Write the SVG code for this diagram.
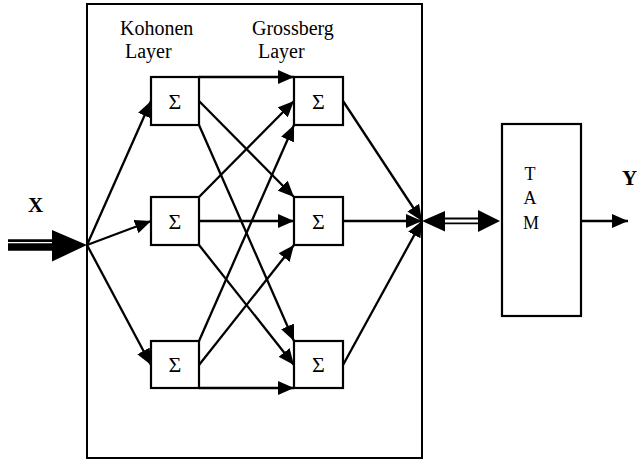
<svg xmlns="http://www.w3.org/2000/svg" width="637" height="461" viewBox="0 0 637 461">
  <style>
    .frame { fill: #fff; stroke: #000; stroke-width: 2; }
    .cell { fill: #fff; stroke: #000; stroke-width: 2.2; }
    .wire { fill: none; stroke: #000; stroke-width: 2.3; }
    .lbl { font-family: "Liberation Serif", "Times New Roman", serif; font-size: 20px; fill: #000; }
    .sig { font-family: "Liberation Serif", "Times New Roman", serif; font-size: 22px; fill: #000; text-anchor: middle; }
    .tam { font-family: "Liberation Serif", "Times New Roman", serif; font-size: 18px; fill: #000; text-anchor: middle; }
    .io { font-family: "Liberation Serif", "Times New Roman", serif; font-size: 21px; font-weight: bold; fill: #000; }
  </style>
  <defs>
    <marker id="head" markerUnits="userSpaceOnUse" markerWidth="16" markerHeight="14" refX="16" refY="7" orient="auto">
      <path d="M0,0 L16,7 L0,14 z" fill="#000"/>
    </marker>
  </defs>

  <rect width="637" height="461" fill="#fff"/>

  <!-- network frame with layer captions -->
  <g id="network">
    <rect class="frame" x="87" y="4" width="335" height="454"/>
    <text class="lbl" x="120" y="35">Kohonen</text>
    <text class="lbl" x="125" y="58">Layer</text>
    <text class="lbl" x="252" y="35">Grossberg</text>
    <text class="lbl" x="258" y="58">Layer</text>
  </g>

  <!-- Kohonen units -->
  <g id="k1"><rect class="cell" x="151" y="77" width="48" height="48"/><text class="sig" x="175" y="109">Σ</text></g>
  <g id="k2"><rect class="cell" x="151" y="197" width="48" height="48"/><text class="sig" x="175" y="229">Σ</text></g>
  <g id="k3"><rect class="cell" x="151" y="341" width="48" height="47"/><text class="sig" x="175" y="372">Σ</text></g>

  <!-- Grossberg units -->
  <g id="g1"><rect class="cell" x="294" y="77" width="49" height="48"/><text class="sig" x="318.5" y="109">Σ</text></g>
  <g id="g2"><rect class="cell" x="294" y="197" width="49" height="48"/><text class="sig" x="318.5" y="229">Σ</text></g>
  <g id="g3"><rect class="cell" x="294" y="341" width="49" height="47"/><text class="sig" x="318.5" y="372">Σ</text></g>

  <!-- TAM block -->
  <g id="tam">
    <rect class="cell" x="502" y="124" width="79" height="192"/>
    <text class="tam" x="530" y="180">T</text>
    <text class="tam" x="530" y="204">A</text>
    <text class="tam" x="531" y="229">M</text>
  </g>

  <!-- input / output labels -->
  <g id="x-label"><text class="io" x="28" y="212">X</text></g>
  <g id="y-label"><text class="io" x="622" y="185">Y</text></g>

  <g id="connectors">
    <!-- input bus -->
    <line x1="8" y1="240.6" x2="54" y2="240.6" stroke="#000" stroke-width="2.6"/>
    <line x1="8" y1="247" x2="54" y2="247" stroke="#000" stroke-width="7.4"/>
    <polygon points="52,230 87,245 52,261.5" fill="#000"/>

    <!-- fan-out to Kohonen layer -->
    <line class="wire" x1="87" y1="245" x2="151" y2="101" marker-end="url(#head)"/>
    <line class="wire" x1="87" y1="245" x2="151" y2="221" marker-end="url(#head)"/>
    <line class="wire" x1="87" y1="245" x2="151" y2="365" marker-end="url(#head)"/>

    <!-- Kohonen to Grossberg -->
    <line class="wire" x1="199" y1="77" x2="294" y2="77" marker-end="url(#head)"/>
    <line class="wire" x1="199" y1="101" x2="294" y2="197" marker-end="url(#head)"/>
    <line class="wire" x1="199" y1="125" x2="294" y2="341" marker-end="url(#head)"/>

    <line class="wire" x1="199" y1="197" x2="294" y2="101" marker-end="url(#head)"/>
    <line class="wire" x1="199" y1="221" x2="294" y2="221" marker-end="url(#head)"/>
    <line class="wire" x1="199" y1="245" x2="294" y2="365" marker-end="url(#head)"/>

    <line class="wire" x1="199" y1="341" x2="294" y2="125" marker-end="url(#head)"/>
    <line class="wire" x1="199" y1="365" x2="294" y2="245" marker-end="url(#head)"/>
    <line class="wire" x1="199" y1="388" x2="294" y2="388" marker-end="url(#head)"/>

    <!-- Grossberg outputs converge -->
    <line class="wire" x1="343" y1="101" x2="422" y2="221" marker-end="url(#head)"/>
    <line class="wire" x1="343" y1="221" x2="422" y2="221" marker-end="url(#head)"/>
    <line class="wire" x1="343" y1="365" x2="422" y2="221" marker-end="url(#head)"/>

    <!-- two-way bus to TAM -->
    <line x1="443" y1="218.5" x2="480" y2="218.5" stroke="#000" stroke-width="1.8"/>
    <line x1="443" y1="223.3" x2="480" y2="223.3" stroke="#000" stroke-width="1.8"/>
    <polygon points="422,221 445,211 445,231.5" fill="#000"/>
    <polygon points="500,221 478,210 478,232" fill="#000"/>

    <!-- output -->
    <line class="wire" x1="581" y1="221" x2="628" y2="221" marker-end="url(#head)"/>
  </g>
</svg>
